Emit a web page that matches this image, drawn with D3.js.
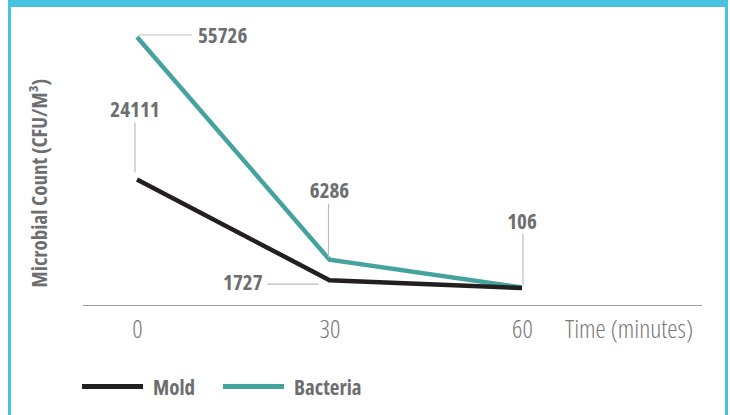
<!DOCTYPE html>
<html>
<head>
<meta charset="utf-8">
<script src="https://cdn.jsdelivr.net/npm/d3@7"></script>
<style>
  html, body { margin: 0; padding: 0; background: #fff; }
  svg text { font-family: "Open Sans", "Noto Sans", sans-serif; font-stretch: 75%; }
</style>
</head>
<body>
<svg id="chart" width="730" height="415"></svg>
<script>
const times = [0, 30, 60];
const tickLabels = ["0", "30", "60"];
const seriesNames = ["Mold", "Bacteria"];
const moldValues = [24111, 1727, 0];
const bacteriaValues = [55726, 6286, 106];
const colors = ["#231f20", "#45a39f"];

const svg = d3.select("#chart");

// frame
svg.append("rect").attr("x", 8).attr("y", 0).attr("width", 720).attr("height", 7).attr("fill", "#48c2df");
svg.append("rect").attr("x", 8).attr("y", 0).attr("width", 3).attr("height", 415).attr("fill", "#48c2df");
svg.append("rect").attr("x", 725).attr("y", 0).attr("width", 3).attr("height", 415).attr("fill", "#48c2df");

const x = d3.scaleLinear().domain([0, 60]).range([137, 522]);
const y = d3.scaleLinear().domain([0, 55726]).range([288, 37]);

// axis line
svg.append("line").attr("x1", 83).attr("x2", 702).attr("y1", 305.5).attr("y2", 305.5)
  .attr("stroke", "#a0a0a0").attr("stroke-width", 1.2);

const xAxis = d3.axisBottom(x).tickValues(times).tickFormat((d, i) => tickLabels[i]).tickSize(0).tickPadding(0);
const gx = svg.append("g").attr("transform", "translate(0,305)").call(xAxis);
gx.select(".domain").remove();
gx.selectAll("text").attr("font-size", 25.5).attr("font-weight", 300).attr("fill", "#7a7a7a")
  .attr("dy", null).attr("y", 32.5);

svg.append("text").attr("x", 565).attr("y", 337.5).attr("font-size", 25.5).attr("font-weight", 300)
  .attr("fill", "#7a7a7a").attr("textLength", 128).attr("lengthAdjust", "spacingAndGlyphs").text("Time (minutes)");

// y title
svg.append("text").attr("transform", "translate(47,183) rotate(-90)").attr("text-anchor", "middle")
  .attr("font-size", 21).attr("font-weight", 700).attr("fill", "#6d6e70")
  .text("Microbial Count (CFU/M³)");

const series = [
  { name: seriesNames[1], values: bacteriaValues, color: colors[1] },
  { name: seriesNames[0], values: moldValues, color: colors[0] }
];
const line = d3.line().x((d, i) => x(times[i])).y(d => y(d));
svg.selectAll("path.series").data(series).join("path").attr("class", "series")
  .attr("d", d => line(d.values)).attr("fill", "none").attr("stroke", d => d.color)
  .attr("stroke-width", 4.5).attr("stroke-linejoin", "miter");

// callouts
const callGray = "#bdbdbd";
const labelStyle = sel => sel.attr("font-size", 21).attr("font-weight", 700).attr("fill", "#6d6e70");
function callout(lx1, ly1, lx2, ly2, tx, ty, anchor, txt) {
  svg.append("line").attr("x1", lx1).attr("y1", ly1).attr("x2", lx2).attr("y2", ly2)
    .attr("stroke", callGray).attr("stroke-width", 1.2);
  svg.append("text").attr("x", tx).attr("y", ty).attr("text-anchor", anchor).text(txt).call(labelStyle);
}
// Bacteria at 0
{ const px = x(times[0]), py = y(bacteriaValues[0]);
  callout(px + 2, py - 2, px + 55, py - 2, px + 61, py + 6, "start", bacteriaValues[0]); }
// Mold at 0
{ const px = x(times[0]), py = y(moldValues[0]);
  callout(px - 2, py - 7, px - 2, py - 57, px - 2, py - 62, "middle", moldValues[0]); }
// Bacteria at 30
{ const px = x(times[1]), py = y(bacteriaValues[1]);
  callout(px - 1, py - 2, px - 1, py - 56, px, py - 62, "middle", bacteriaValues[1]); }
// Bacteria at 60
{ const px = x(times[2]), py = y(bacteriaValues[2]);
  callout(px + 1, py - 3, px + 1, py - 54, px, py - 59, "middle", bacteriaValues[2]); }
// Mold at 30
{ const px = x(times[1]), py = y(moldValues[1]);
  callout(px - 11, py + 4, px - 62, py + 4, px - 67, py + 10, "end", moldValues[1]); }

// legend
const leg = svg.append("g");
const legX = [82, 223];
seriesNames.forEach((n, i) => {
  leg.append("line").attr("x1", legX[i]).attr("x2", legX[i] + 61).attr("y1", 386.5).attr("y2", 386.5)
    .attr("stroke", colors[i]).attr("stroke-width", 5);
  leg.append("text").attr("x", legX[i] + 71).attr("y", 394.5).text(n)
    .attr("font-size", 21).attr("font-weight", 700).attr("fill", "#6d6e70");
});
</script>
</body>
</html>
